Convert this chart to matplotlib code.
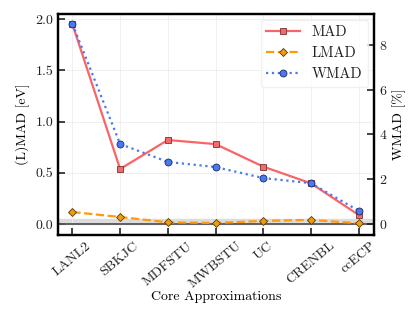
import matplotlib
matplotlib.use('Agg')
import numpy as np
from matplotlib import pyplot as plt

plt.rcParams['font.family'] = 'serif'
plt.rcParams['font.serif'] = ['cmr10', 'DejaVu Serif']
plt.rcParams['mathtext.fontset'] = 'cm'
plt.rcParams['axes.unicode_minus'] = False
plt.rcParams['axes.formatter.use_mathtext'] = True
plt.rcParams['font.size'] = 10
plt.rcParams['text.color'] = '#222222'
plt.rcParams['xtick.color'] = '#222222'
plt.rcParams['ytick.color'] = '#222222'

# data
cores = ['LANL2', 'SBKJC', 'MDFSTU', 'MWBSTU', 'UC', 'CRENBL', 'ccECP']
mad = [1.95, 0.537, 0.82, 0.78, 0.56, 0.397, 0.088]    # eV
lmad = [0.117, 0.068, 0.016, 0.010, 0.030, 0.040, 0.007]  # eV
wmad = [8.93, 3.57, 2.77, 2.54, 2.05, 1.82, 0.59]      # %

x = np.arange(len(cores))
scale = 4.57  # WMAD axis / MAD axis

fig = plt.figure(figsize=(4.15, 3.12), dpi=100)
ax = fig.add_axes([0.14, 0.247, 0.761, 0.708])
ax2 = ax.twinx()

ax.axhspan(0, 0.05, color='#dcdcdc', zorder=0)
ax.axhline(0, color='#555555', lw=1.3, zorder=1)

l1, = ax.plot(x, mad, '-s', color='#fa6466', lw=1.6, ms=5, mfc='#f26a6a', mec='#7a3030', mew=0.6, label='MAD', zorder=3)
l2, = ax.plot(x, lmad, '--D', color='#ff9a0a', lw=1.6, ms=4, mfc='#f09a10', mec='#5a3a00', mew=0.6, label='LMAD', zorder=3)
l3, = ax2.plot(x, wmad, ':o', color='#4a78f0', lw=1.6, ms=5, mfc='#4a78f0', mec='#1a2a60', mew=0.6, label='WMAD', zorder=3)

ax.set_xlim(-0.3, 6.32)
ax.set_ylim(-0.107, 2.05)
ax2.set_ylim(-0.107 * scale, 2.05 * scale)

ax.set_xticks(x)
ax.set_xticklabels(cores, rotation=40)
ax.set_yticks([0.0, 0.5, 1.0, 1.5, 2.0])
ax.set_yticklabels(['0.0', '0.5', '1.0', '1.5', '2.0'])
ax2.set_yticks([0, 2, 4, 6, 8])

ax.grid(True, color='#eeeeee', lw=0.6)
ax.set_axisbelow(True)

ax.tick_params(direction='in', length=5, width=1.2, top=False, labelsize=10)
ax2.tick_params(direction='in', length=5, width=1.2, labelsize=10)
for a in (ax, ax2):
    for s in a.spines.values():
        s.set_linewidth(1.6)

ax.set_xlabel('Core Approximations', fontsize=10, labelpad=0)
ax.set_ylabel('(L)MAD [eV]', fontsize=10)
ax2.set_ylabel('WMAD [%]', fontsize=10)

ax2.legend([l1, l2, l3], ['MAD', 'LMAD', 'WMAD'], loc='upper right', fontsize=10.5,
           handlelength=2.3, framealpha=0.8, edgecolor='#eeeeee', fancybox=True,
           borderaxespad=0.4)

fig.savefig('out.png', dpi=100)
